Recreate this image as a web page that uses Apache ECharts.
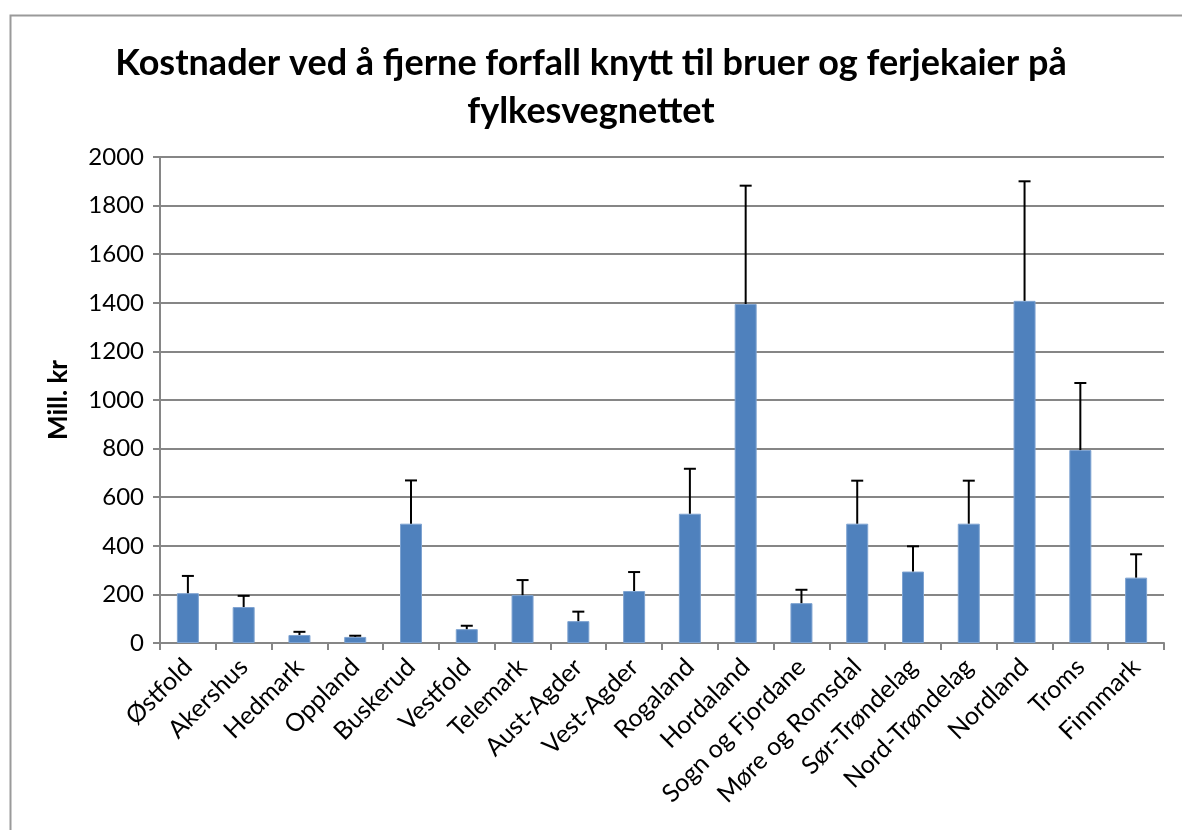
<!DOCTYPE html>
<html style="height: 100%">
   <head>
       <meta charset="utf-8">
   </head>
   <body style="height: 100%; margin: 0">
       <div id="container" style="width: 1182px; height: 830px"></div>
       <script type="text/javascript" src="https://cdn.jsdelivr.net/npm/echarts@6/dist/echarts.min.js"></script>
       <script type="text/javascript">
var dom = document.getElementById("container");
var myChart = echarts.init(dom);

var fylker = ['Østfold', 'Akershus', 'Hedmark', 'Oppland', 'Buskerud', 'Vestfold', 'Telemark',
    'Aust-Agder', 'Vest-Agder', 'Rogaland', 'Hordaland', 'Sogn og Fjordane', 'Møre og Romsdal',
    'Sør-Trøndelag', 'Nord-Trøndelag', 'Nordland', 'Troms', 'Finnmark'];
var kostnad = [205, 148, 33, 25, 491, 57, 197, 90, 214, 532, 1395, 164, 491, 294, 491, 1408, 794, 269];
var kostnadOvre = [276, 194, 46, 30, 669, 71, 259, 129, 292, 717, 1882, 219, 668, 398, 668, 1900, 1070, 365];
var yTicks = [0, 2000, 200];

var font = 'Lato, "Open Sans", sans-serif';

var feilData = fylker.map(function (f, i) {
    return [i, kostnad[i], kostnadOvre[i]];
});

var option = {
    animation: false,
    backgroundColor: '#ffffff',
    graphic: [{
        type: 'rect',
        left: 8, top: 13,
        shape: { width: 1200, height: 900 },
        style: { fill: 'none', stroke: '#9a9a9a', lineWidth: 2 },
        silent: true
    }],
    title: {
        text: 'Kostnader ved å fjerne forfall knytt til bruer og ferjekaier på\nfylkesvegnettet',
        left: 'center',
        top: 34,
        textStyle: {
            fontFamily: font,
            fontSize: 36,
            fontWeight: 'bold',
            color: '#000',
            lineHeight: 48
        }
    },
    grid: {
        left: 160,
        right: 18,
        top: 157,
        bottom: 187,
        containLabel: false
    },
    xAxis: {
        type: 'category',
        data: fylker,
        axisLine: { lineStyle: { color: '#868686', width: 2 } },
        axisTick: { show: true, length: 7, lineStyle: { color: '#868686', width: 2 } },
        axisLabel: {
            rotate: 45,
            interval: 0,
            margin: 20,
            fontFamily: font,
            fontSize: 25,
            color: '#000'
        }
    },
    yAxis: {
        type: 'value',
        min: yTicks[0],
        max: yTicks[1],
        interval: yTicks[2],
        name: 'Mill. kr',
        nameLocation: 'middle',
        nameGap: 88,
        nameTextStyle: {
            fontFamily: font,
            fontSize: 26,
            fontWeight: 'bold',
            color: '#000'
        },
        axisLine: { show: true, lineStyle: { color: '#868686', width: 2 } },
        axisTick: { show: true, length: 7, lineStyle: { color: '#868686', width: 2 } },
        splitLine: { lineStyle: { color: '#868686', width: 2 } },
        axisLabel: {
            margin: 16,
            fontFamily: font,
            fontSize: 24,
            color: '#000',
            formatter: function (v) { return String(v); }
        }
    },
    series: [
        {
            name: 'Kostnad',
            type: 'bar',
            data: kostnad,
            barWidth: 22,
            itemStyle: {
                color: '#4f81bd',
                borderColor: '#7ea3d1',
                borderWidth: 1
            }
        },
        {
            name: 'Feil',
            type: 'custom',
            data: feilData,
            encode: { x: 0, y: [1, 2] },
            z: 5,
            renderItem: function (params, api) {
                var lav = api.coord([api.value(0), api.value(1)]);
                var hoy = api.coord([api.value(0), api.value(2)]);
                var halv = 6;
                var stil = { stroke: '#000', lineWidth: 2 };
                return {
                    type: 'group',
                    children: [{
                        type: 'line',
                        shape: { x1: lav[0], y1: lav[1], x2: hoy[0], y2: hoy[1] },
                        style: stil
                    }, {
                        type: 'line',
                        shape: { x1: hoy[0] - halv, y1: hoy[1], x2: hoy[0] + halv, y2: hoy[1] },
                        style: stil
                    }]
                };
            }
        }
    ]
};

myChart.setOption(option, true);
       </script>
   </body>
</html>
